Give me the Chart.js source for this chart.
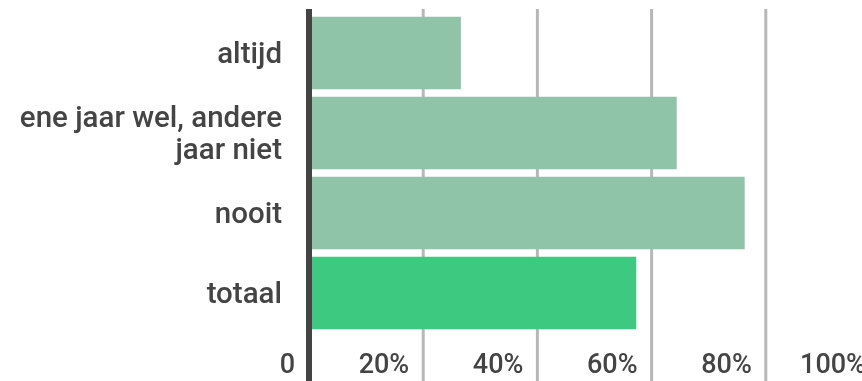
<!DOCTYPE html>
<html>
<head>
<meta charset="utf-8">
<script src="https://cdn.jsdelivr.net/npm/chart.js@4/dist/chart.umd.min.js"></script>
<style>
  html, body { margin: 0; padding: 0; background: #ffffff; overflow: hidden; width: 862px; height: 381px; }
  #wrap { position: absolute; left: 0; top: 0; width: 880px; height: 381px; }
</style>
</head>
<body>
<div id="wrap"><canvas id="c" width="880" height="381" style="width:880px;height:381px"></canvas></div>
<script>
// ---- data ----
const categories = ['altijd', ['ene jaar wel, andere', 'jaar niet'], 'nooit', 'totaal'];
const values = [26.6, 64.4, 76.3, 57.3];
const barColors = ['#8fc4a8', '#8fc4a8', '#8fc4a8', '#3ec980'];
const tickValues = [0, 20, 40, 60, 80, 100];
const tickLabels = ['0', '20%', '40%', '60%', '80%', '100%'];

const TEXT = '#444444';
const FONT = 'Roboto';

const gridPlugin = {
  id: 'customGrid',
  beforeDatasetsDraw(chart) {
    const ctx = chart.ctx, x = chart.scales.x;
    ctx.save();
    ctx.strokeStyle = '#b7b7b7';
    ctx.lineWidth = 3;
    tickValues.forEach(v => {
      if (v === 0) return;
      const px = x.getPixelForValue(v);
      ctx.beginPath();
      ctx.moveTo(px, 9);
      ctx.lineTo(px, chart.height);
      ctx.stroke();
    });
    ctx.restore();
  },
  afterDatasetsDraw(chart) {
    const ctx = chart.ctx, x = chart.scales.x;
    const px = x.getPixelForValue(0);
    ctx.save();
    ctx.strokeStyle = '#444444';
    ctx.lineWidth = 6;
    ctx.beginPath();
    ctx.moveTo(px, 9);
    ctx.lineTo(px, chart.height);
    ctx.stroke();
    ctx.restore();
  }
};

new Chart(document.getElementById('c'), {
  type: 'bar',
  data: {
    labels: categories,
    datasets: [{
      data: values,
      backgroundColor: barColors,
      borderWidth: 0,
      barPercentage: 0.906,
      categoryPercentage: 1.0
    }]
  },
  options: {
    indexAxis: 'y',
    responsive: false,
    animation: false,
    devicePixelRatio: 1,
    layout: { padding: { top: 13, left: 0, right: 0, bottom: 0 } },
    plugins: { legend: { display: false }, tooltip: { enabled: false }, title: { display: false } },
    scales: {
      x: {
        type: 'linear',
        min: 0,
        max: 100,
        position: 'bottom',
        afterBuildTicks(scale) { scale.ticks = tickValues.map(v => ({ value: v })); },
        afterFit(scale) { scale.height = 48; scale.paddingLeft = 0; scale.paddingRight = 0; },
        grid: { display: false, drawTicks: false },
        border: { display: false },
        ticks: {
          autoSkip: false,
          maxRotation: 0,
          align: 'end',
          labelOffset: -14,
          padding: 17,
          color: TEXT,
          font: { family: FONT, size: 27, weight: '500' },
          callback(v) { const i = tickValues.indexOf(v); return i >= 0 ? tickLabels[i] : ''; }
        }
      },
      y: {
        type: 'category',
        position: 'left',
        afterFit(scale) { scale.width = 309; scale.paddingTop = 0; scale.paddingBottom = 0; },
        grid: { display: false, drawTicks: false },
        border: { display: false },
        ticks: {
          padding: 27,
          labelOffset: 3,
          color: TEXT,
          font: { family: FONT, size: 29.5, weight: '500', lineHeight: 1.08 }
        }
      }
    }
  },
  plugins: [gridPlugin]
});
</script>
</body>
</html>
